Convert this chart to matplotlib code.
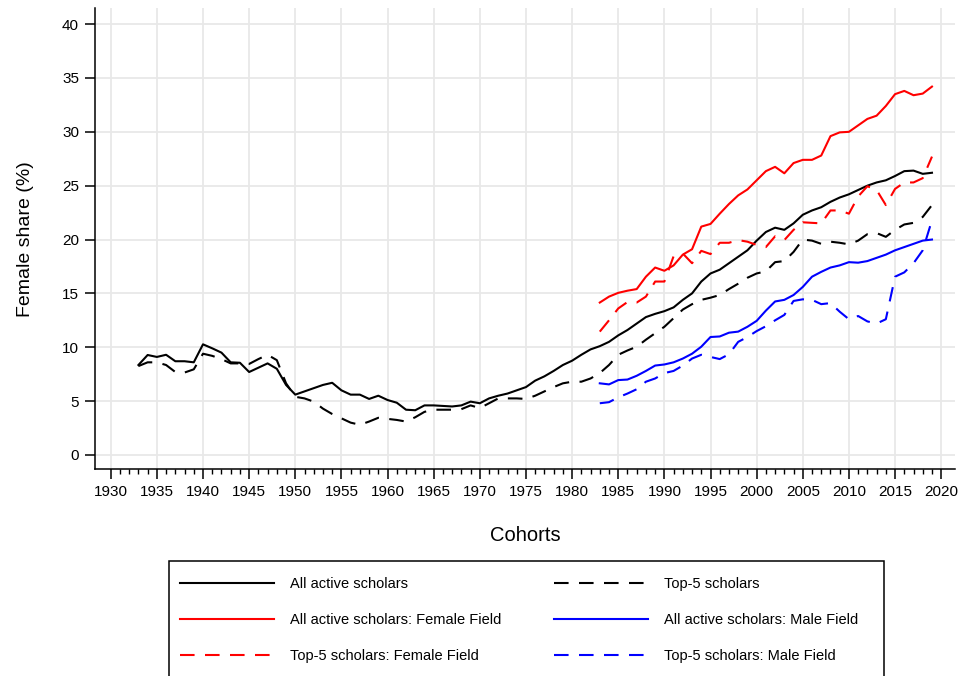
import numpy as np
import matplotlib
matplotlib.use("Agg")
import matplotlib.pyplot as plt
from matplotlib.patches import Rectangle

plt.rcParams["font.family"] = ["Liberation Sans", "DejaVu Sans"]

years_all = np.arange(1933, 2020)
years_field = np.arange(1983, 2020)

all_active = [
    8.35, 9.28, 9.1, 9.3, 8.7, 8.7, 8.6,                     # 1933-1939
    10.27, 9.9, 9.5, 8.6, 8.56, 7.7, 8.1, 8.5, 8.0, 6.5,      # 1940s
    5.6, 5.9, 6.2, 6.5, 6.7, 6.0, 5.6, 5.6, 5.2, 5.5,         # 1950s
    5.1, 4.85, 4.2, 4.15, 4.6, 4.6, 4.55, 4.5, 4.6, 4.95,     # 1960s
    4.8, 5.25, 5.5, 5.7, 6.0, 6.3, 6.9, 7.3, 7.8, 8.35,       # 1970s
    8.75, 9.3, 9.8, 10.1, 10.5, 11.1, 11.6, 12.2, 12.8, 13.1,  # 1980s
    13.35, 13.7, 14.4, 15.0, 16.1, 16.85, 17.2, 17.8, 18.4, 19.0,  # 1990s
    19.9, 20.7, 21.1, 20.9, 21.5, 22.3, 22.7, 23.0, 23.5, 23.9,    # 2000s
    24.2, 24.6, 25.0, 25.3, 25.5, 25.9, 26.35, 26.4, 26.1, 26.2,   # 2010s
]

top5 = [
    8.25, 8.6, 8.6, 8.35, 7.7, 7.65, 7.95,
    9.4, 9.2, 8.9, 8.5, 8.5, 8.45, 8.9, 9.3, 8.8, 6.65,
    5.4, 5.25, 4.95, 4.3, 3.8, 3.4, 3.0, 2.8, 3.1, 3.45,
    3.35, 3.25, 3.1, 3.5, 4.0, 4.2, 4.2, 4.2, 4.25, 4.6,
    4.35, 4.8, 5.25, 5.25, 5.25, 5.2, 5.5, 5.9, 6.3, 6.65,
    6.8, 6.8, 7.1, 7.6, 8.35, 9.3, 9.7, 10.05, 10.7, 11.3,
    11.9, 12.7, 13.5, 14.0, 14.4, 14.6, 14.85, 15.4, 15.9, 16.45,
    16.85, 17.05, 17.9, 18.0, 18.85, 20.0, 19.9, 19.6, 19.8, 19.7,
    19.55, 19.9, 20.5, 20.6, 20.25, 20.9, 21.4, 21.55, 22.1, 23.2,
]

all_female_field = [
    14.15, 14.7, 15.05, 15.25, 15.4, 16.55, 17.4,
    17.1, 17.6, 18.6, 19.1, 21.2, 21.45, 22.4, 23.3, 24.1, 24.65,
    25.5, 26.35, 26.75, 26.15, 27.1, 27.4, 27.4, 27.8, 29.6, 29.95,
    30.0, 30.6, 31.2, 31.5, 32.4, 33.5, 33.8, 33.4, 33.55, 34.2,
]

top5_female_field = [
    11.45, 12.5, 13.6, 14.2, 14.15, 14.7, 16.1,
    16.1, 18.45, 18.7, 17.8, 18.95, 18.65, 19.7, 19.7, 19.95, 19.8,
    19.5, 19.3, 20.3, 19.95, 20.9, 21.6, 21.55, 21.5, 22.7, 22.7,
    22.4, 24.0, 24.95, 24.6, 23.2, 24.7, 25.3, 25.3, 25.7, 27.7,
]

all_male_field = [
    6.65, 6.55, 6.95, 7.0, 7.35, 7.8, 8.3,
    8.4, 8.6, 8.95, 9.4, 10.05, 10.95, 11.0, 11.35, 11.45, 11.9,
    12.45, 13.4, 14.25, 14.4, 14.85, 15.6, 16.55, 17.0, 17.4, 17.6,
    17.9, 17.85, 18.0, 18.3, 18.6, 19.0, 19.3, 19.6, 19.9, 20.0,
]

top5_male_field = [
    4.8, 4.9, 5.35, 5.7, 6.1, 6.8, 7.1,
    7.6, 7.8, 8.3, 8.95, 9.3, 9.1, 8.9, 9.35, 10.5, 10.95,
    11.5, 11.95, 12.5, 13.0, 14.3, 14.45, 14.4, 14.0, 14.1, 13.3,
    12.6, 12.9, 12.4, 12.2, 12.6, 16.55, 16.95, 17.8, 19.0, 21.8,
]

dash = (0, (7, 5))
lw = 1.5

fig = plt.figure(figsize=(9.61, 6.76), dpi=100)
ax = fig.add_axes([0.0989, 0.3055, 0.8949, 0.6827])

l1, = ax.plot(years_all, all_active, color="black", lw=lw, label="All active scholars")
l2, = ax.plot(years_all, top5, color="black", lw=lw, ls=dash, label="Top-5 scholars")
l3, = ax.plot(years_field, all_female_field, color="red", lw=lw,
              label="All active scholars: Female Field")
l4, = ax.plot(years_field, all_male_field, color="blue", lw=lw,
              label="All active scholars: Male Field")
l5, = ax.plot(years_field, top5_female_field, color="red", lw=lw, ls=dash,
              label="Top-5 scholars: Female Field")
l6, = ax.plot(years_field, top5_male_field, color="blue", lw=lw, ls=dash,
              label="Top-5 scholars: Male Field")

ax.set_xlim(1928.3, 2021.5)
ax.set_ylim(-1.35, 41.5)
ax.set_xticks(np.arange(1930, 2021, 5))
ax.set_xticks(np.arange(1930, 2021, 1), minor=True)
ax.set_yticks(np.arange(0, 41, 5))
ax.grid(True, which="major", color="#e8e8e8", lw=1.3)
ax.set_axisbelow(True)
for s in ["top", "right"]:
    ax.spines[s].set_visible(False)
for s in ["left", "bottom"]:
    ax.spines[s].set_linewidth(1.1)
ax.tick_params(axis="both", which="major", length=7.5, width=1.1, labelsize=11, pad=4)
ax.tick_params(axis="x", which="minor", length=3.5, width=1.0)

ax.set_xlabel("Cohorts", fontsize=14.5, labelpad=19)
ax.set_ylabel("Female share (%)", fontsize=14, labelpad=20)

handles = [l1, l3, l5, l2, l4, l6]
fig.legend(handles=handles, labels=[h.get_label() for h in handles],
           ncol=2, frameon=False, fontsize=10.5,
           loc="upper left", bbox_to_anchor=(0.1815, 0.155),
           handlelength=6.4, handletextpad=1.1, columnspacing=3.65,
           labelspacing=1.5, borderaxespad=0)

fig.patches.append(Rectangle((0.1759, -0.1), 0.7440, 0.2706,
                             transform=fig.transFigure, fill=False,
                             edgecolor="black", lw=1.1))

fig.savefig("out.png", dpi=100)
